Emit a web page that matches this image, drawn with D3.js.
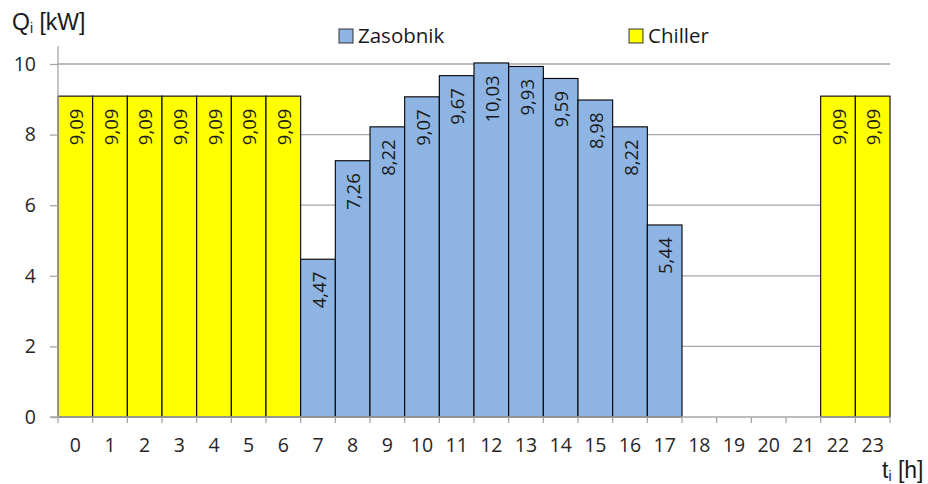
<!DOCTYPE html>
<html>
<head>
<meta charset="utf-8">
<script src="https://cdn.jsdelivr.net/npm/d3@7"></script>
<style>
  html, body { margin: 0; padding: 0; background: #fff; }
  svg { display: block; }
</style>
</head>
<body>
<svg id="chart" width="928" height="484"></svg>
<script>
// Hourly heat load, split between storage tank and chiller
const hours = d3.range(0, 24).map(String);
const zasobnik = [null, null, null, null, null, null, null, 4.47, 7.26, 8.22, 9.07, 9.67, 10.03, 9.93, 9.59, 8.98, 8.22, 5.44, null, null, null, null, null, null];
const chiller = [9.09, 9.09, 9.09, 9.09, 9.09, 9.09, 9.09, null, null, null, null, null, null, null, null, null, null, null, null, null, null, null, 9.09, 9.09];
const yTicks = [0, 2, 4, 6, 8, 10];
const seriesNames = ["Zasobnik", "Chiller"];
const seriesColors = ["#8db4e2", "#ffff00"];

const svg = d3.select("#chart");
const m = { left: 58, right: 890, top: 64, bottom: 417 };

const x = d3.scaleBand().domain(hours).range([m.left, m.right]).padding(0);
const y = d3.scaleLinear().domain([0, 10]).range([m.bottom, m.top]);

const tickFont = "'Open Sans', 'DejaVu Sans', sans-serif";

// horizontal grid
svg.append("g").selectAll("line").data(yTicks.filter(d => d > 0)).join("line")
  .attr("x1", m.left).attr("x2", m.right)
  .attr("y1", d => y(d)).attr("y2", d => y(d))
  .attr("stroke", "#a6a6a6").attr("stroke-width", 1.3);

// bars
const rows = [];
hours.forEach((h, i) => {
  if (zasobnik[i] != null) rows.push({ h, v: zasobnik[i], s: 0 });
  if (chiller[i] != null) rows.push({ h, v: chiller[i], s: 1 });
});

svg.append("g").selectAll("rect").data(rows).join("rect")
  .attr("x", d => x(d.h))
  .attr("width", x.bandwidth())
  .attr("y", d => y(d.v))
  .attr("height", d => y(0) - y(d.v))
  .attr("fill", d => seriesColors[d.s])
  .attr("stroke", "#000").attr("stroke-width", 1.1);

// value labels, rotated inside bar tops
const fmt = v => v.toFixed(2).replace(".", ",");
svg.append("g").selectAll("text").data(rows).join("text")
  .attr("transform", d => `translate(${x(d.h) + x.bandwidth() / 2 + 7.5},${y(d.v) + 12.5}) rotate(-90)`)
  .attr("text-anchor", "end")
  .attr("font-family", tickFont)
  .attr("font-size", 18.5)
  .attr("fill", "#1a1a1a")
  .text(d => fmt(d.v));

// y axis
const yAxis = svg.append("g").attr("transform", `translate(${m.left},0)`)
  .call(d3.axisLeft(y).tickValues(yTicks).tickSize(8).tickPadding(14).tickFormat(d => d));
yAxis.select(".domain").attr("stroke", "#a6a6a6").attr("stroke-width", 1.3);
yAxis.selectAll(".tick line").attr("stroke", "#a6a6a6").attr("stroke-width", 1.3);
yAxis.selectAll("text").attr("font-family", tickFont).attr("font-size", 19.5).attr("fill", "#262626");
yAxis.select(".domain").attr("d", `M0,${m.bottom}V${m.top - 18}`);

// x axis: ticks at category boundaries
const xAxis = svg.append("g").attr("transform", `translate(0,${m.bottom})`)
  .call(d3.axisBottom(x).tickSize(0).tickPadding(21));
xAxis.select(".domain").attr("d", `M${m.left - 8},0H${m.right}`)
  .attr("stroke", "#a6a6a6").attr("stroke-width", 1.3);
xAxis.selectAll("text").attr("font-family", tickFont).attr("font-size", 19.5).attr("fill", "#262626");
svg.append("g").selectAll("line").data(hours.concat(["end"])).join("line")
  .attr("x1", (d, i) => m.left + i * x.bandwidth())
  .attr("x2", (d, i) => m.left + i * x.bandwidth())
  .attr("y1", m.bottom).attr("y2", m.bottom + 6)
  .attr("stroke", "#a6a6a6").attr("stroke-width", 1.3);

// axis titles
const titleFont = "'Liberation Sans', Arial, sans-serif";
const yt = svg.append("text").attr("x", 12).attr("y", 30)
  .attr("font-family", titleFont).attr("font-size", 23).attr("fill", "#1a1a1a");
yt.append("tspan").text("Q");
yt.append("tspan").attr("font-size", 14).attr("dy", 3).text("i");
yt.append("tspan").attr("dy", -3).text(" [kW]");

const xt = svg.append("text").attr("x", 882).attr("y", 478)
  .attr("font-family", titleFont).attr("font-size", 23).attr("fill", "#1a1a1a");
xt.append("tspan").text("t");
xt.append("tspan").attr("font-size", 14).attr("dy", 3).text("i");
xt.append("tspan").attr("dy", -3).text(" [h]");

// legend
const legendX = [339, 629];
const lg = svg.append("g").selectAll("g").data(seriesNames).join("g")
  .attr("transform", (d, i) => `translate(${legendX[i]},29)`);
lg.append("rect").attr("width", 14).attr("height", 14)
  .attr("fill", (d, i) => seriesColors[i]).attr("stroke", "#333").attr("stroke-width", 1);
lg.append("text").attr("x", 19).attr("y", 14)
  .attr("font-family", tickFont).attr("font-size", 20.5).attr("fill", "#1a1a1a")
  .text(d => d);
</script>
</body>
</html>
